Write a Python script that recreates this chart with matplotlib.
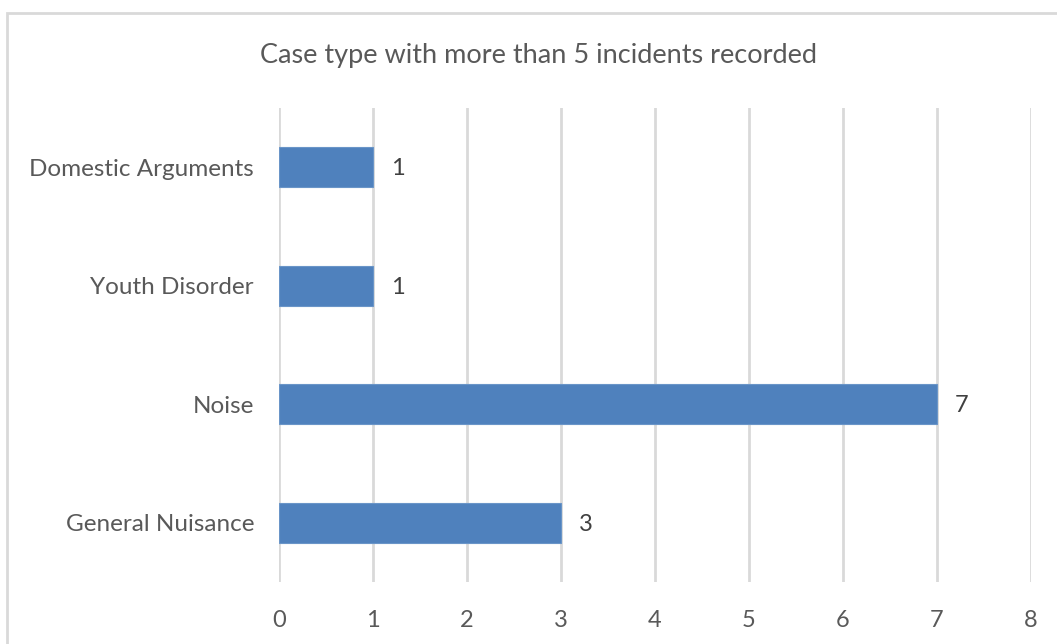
import matplotlib
matplotlib.use("Agg")
import matplotlib.pyplot as plt
from matplotlib.patches import Rectangle

categories = ["General Nuisance", "Noise", "Youth Disorder", "Domestic Arguments"]
counts = [3, 7, 1, 1]
x_ticks = [0, 1, 2, 3, 4, 5, 6, 7, 8]
title = "Case type with more than 5 incidents recorded"

plt.rcParams["font.family"] = ["Lato", "DejaVu Sans"]

W, H = 1057, 644
fig = plt.figure(figsize=(W / 100, H / 100), dpi=100)
ax = fig.add_axes([279 / W, 1 - 582 / H, (1031 - 279) / W, (582 - 108) / H])

bar_color = "#4F81BD"
text_color = "#595959"
grid_color = "#D9D9D9"

ypos = list(range(len(categories)))
bars = ax.barh(ypos, counts, height=0.34, color=bar_color,
               edgecolor="#6A95C8", linewidth=0.8, zorder=3)

for b, v in zip(bars, counts):
    ax.annotate(str(v), xy=(b.get_width(), b.get_y() + b.get_height() / 2),
                xytext=(13, -1), textcoords="offset points",
                ha="left", va="center", fontsize=17, color="#404040")

ax.set_xlim(x_ticks[0], x_ticks[-1])
ax.set_ylim(-0.5, len(categories) - 0.5)
ax.set_xticks(x_ticks)
ax.set_yticks(ypos)
ax.set_yticklabels(categories)
ax.xaxis.grid(True, color=grid_color, linewidth=2, zorder=0)
ax.set_axisbelow(True)
for s in ax.spines.values():
    s.set_visible(False)
ax.tick_params(axis="x", length=0, pad=20, labelsize=17, labelcolor=text_color)
ax.tick_params(axis="y", length=0, pad=18, labelsize=17.5, labelcolor=text_color)

fig.text(539 / W, 1 - 55 / H, title, ha="center", va="center",
         fontsize=19.5, color=text_color)

# chart-area frame
fig.patches.append(Rectangle((7 / W, -0.1), 1.2, 1.1 - 13 / H,
                             transform=fig.transFigure, fill=False,
                             edgecolor=grid_color, linewidth=2))

fig.savefig("out.png", dpi=100)
